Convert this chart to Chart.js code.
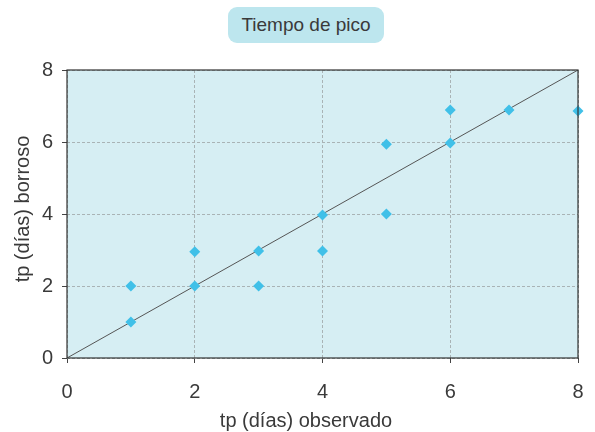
<!DOCTYPE html>
<html>
<head>
<meta charset="utf-8">
<script src="https://cdn.jsdelivr.net/npm/chart.js@4"></script>
<style>
  html, body { margin: 0; padding: 0; background: #fff; }
  #wrap { position: relative; width: 595px; height: 432px; }
  .lbl {
    position: absolute; font-family: 'Liberation Sans', Arial, sans-serif;
    color: #3a3a3a; white-space: nowrap; text-align: center;
  }
  #titleBox {
    left: 228px; top: 7px; width: 156px; height: 36px;
    background: #bde6ee; border-radius: 9px;
    font-size: 19px; line-height: 36px;
  }
  #xTitle { left: 206px; top: 408px; width: 200px; font-size: 20px; line-height: 24px; }
  #yTitle {
    left: -78px; top: 197px; width: 200px; font-size: 20px; line-height: 24px;
    transform: rotate(-90deg);
  }
</style>
</head>
<body>
<div id="wrap">
  <canvas id="chartCanvas" width="595" height="432"></canvas>
  <div id="titleBox" class="lbl">Tiempo de pico</div>
  <div id="xTitle" class="lbl">tp (días) observado</div>
  <div id="yTitle" class="lbl">tp (días) borroso</div>
</div>
<script>
// observed vs fuzzy peak time (days)
const observedDays = [1, 1, 2, 2, 3, 3, 4, 4, 5, 5, 6, 6, 6.92, 8];
const fuzzyDays = [2, 1, 2.95, 2, 2.97, 2, 3.97, 2.97, 5.94, 4, 6.89, 5.97, 6.89, 6.86];
const diagonalX = [0, 8];
const diagonalY = [0, 8];
const axisTicks = [0, 2, 4, 6, 8];

const tickFont = { family: "'Liberation Sans', Arial, sans-serif", size: 20 };
const textColor = '#3a3a3a';

// plot background + full frame around the plot area
const plotFrame = {
  id: 'plotFrame',
  beforeDraw(chart) {
    const { ctx, chartArea: a } = chart;
    ctx.save();
    ctx.fillStyle = '#d6eef3';
    ctx.fillRect(a.left, a.top, a.right - a.left, a.bottom - a.top);
    ctx.restore();
  },
  afterDatasetsDraw(chart) {
    const { ctx, chartArea: a } = chart;
    ctx.save();
    ctx.strokeStyle = '#333';
    ctx.lineWidth = 1.2;
    ctx.strokeRect(a.left, a.top, a.right - a.left, a.bottom - a.top);
    ctx.restore();
  },
};

const ctx = document.getElementById('chartCanvas').getContext('2d');
new Chart(ctx, {
  type: 'scatter',
  data: {
    datasets: [
      {
        label: 'tp',
        data: observedDays.map((x, i) => ({ x: x, y: fuzzyDays[i] })),
        pointStyle: 'rectRot',
        pointRadius: 5.5,
        backgroundColor: '#40c0e8',
        borderColor: '#40c0e8',
        borderWidth: 0,
        clip: false,
      },
      {
        label: 'diagonal',
        data: diagonalX.map((x, i) => ({ x: x, y: diagonalY[i] })),
        showLine: true,
        borderColor: '#555',
        borderWidth: 1,
        pointRadius: 0,
      },
    ],
  },
  options: {
    responsive: false,
    animation: false,
    layout: { padding: { top: 70, right: 17, left: 0, bottom: 0 } },
    plugins: {
      legend: { display: false },
      tooltip: { enabled: false },
    },
    scales: {
      x: {
        min: 0,
        max: 8,
        afterBuildTicks: (scale) => { scale.ticks = axisTicks.map((v) => ({ value: v })); },
        afterFit: (scale) => {
          scale.height = 74;
          scale.paddingLeft = 0;
          scale.paddingRight = 0;
        },
        ticks: { font: tickFont, color: textColor, padding: 17 },
        grid: { color: '#a9b3b5', tickColor: '#444', tickLength: 5, lineWidth: 1 },
        border: { display: false, dash: [3, 2] },
      },
      y: {
        min: 0,
        max: 8,
        afterBuildTicks: (scale) => { scale.ticks = axisTicks.map((v) => ({ value: v })); },
        afterFit: (scale) => {
          scale.width = 67;
          scale.paddingTop = 0;
          scale.paddingBottom = 0;
        },
        ticks: { font: tickFont, color: textColor, padding: 9 },
        grid: { color: '#a9b3b5', tickColor: '#444', tickLength: 5, lineWidth: 1 },
        border: { display: false, dash: [3, 2] },
      },
    },
  },
  plugins: [plotFrame],
});
</script>
</body>
</html>
